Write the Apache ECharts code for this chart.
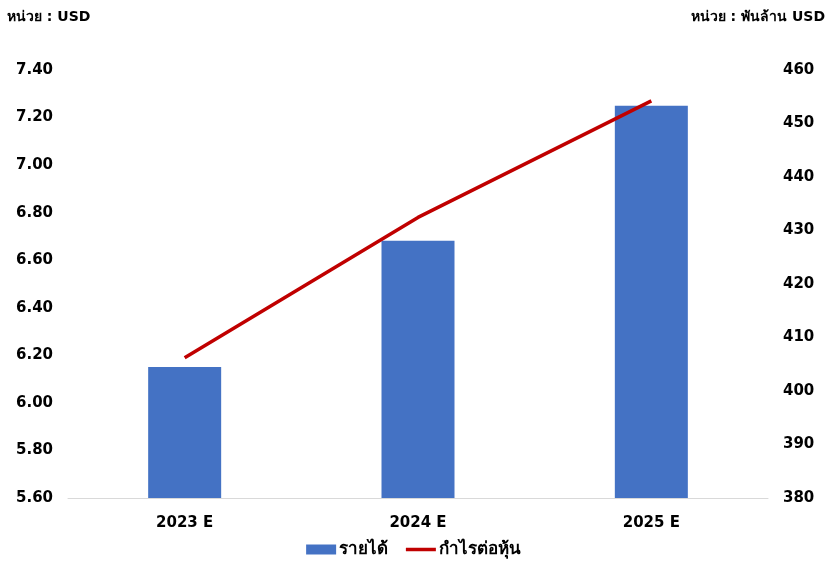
<!DOCTYPE html>
<html>
<head>
<meta charset="utf-8">
<script src="https://cdn.jsdelivr.net/npm/echarts@6/dist/echarts.min.js"></script>
<style>
  html, body { margin: 0; padding: 0; background: #fff; }
  #chart { width: 827px; height: 566px; }
</style>
</head>
<body>
<div id="chart"></div>
<script>
// Revenue (bars, right axis, bn USD) + EPS (line, left axis, USD)
const years = ['2023 E', '2024 E', '2025 E'];
const revenue = [404.5, 428.1, 453.3];
const eps = [6.19, 6.78, 7.27];

const FONT = '"DejaVu Sans", Tahoma, sans-serif';
const label = { color: '#000', fontSize: 15, fontWeight: 'bold', fontFamily: FONT };
const titleText = { fontSize: 14, fontWeight: 'bold', color: '#000', fontFamily: FONT };

const chart = echarts.init(document.getElementById('chart'), null, { renderer: 'canvas' });
chart.setOption({
  animation: false,
  backgroundColor: '#fff',
  textStyle: { fontFamily: FONT },
  title: [
    { text: 'หน่วย : USD', left: 2, top: 5, textStyle: titleText },
    { text: 'หน่วย : พันล้าน USD', right: -3, top: 5, textStyle: titleText },
  ],
  legend: {
    bottom: 3,
    left: 'center',
    itemGap: 16,
    itemWidth: 30,
    itemHeight: 10,
    textStyle: { fontSize: 17, fontWeight: 'bold', color: '#000', fontFamily: FONT, padding: [0, 0, 0, -2] },
    data: [
      { name: 'รายได้', icon: 'rect' },
      { name: 'กำไรต่อหุ้น', itemStyle: { opacity: 0 }, lineStyle: { width: 3.5, color: '#c00000' } },
    ],
  },
  grid: { left: 68, right: 59, top: 70, bottom: 68 },
  xAxis: {
    type: 'category',
    data: years,
    axisLine: { lineStyle: { color: '#d9d9d9', width: 1 } },
    axisTick: { show: false },
    axisLabel: Object.assign({ margin: 18 }, label),
  },
  yAxis: [
    {
      type: 'value', min: 5.6, max: 7.4, interval: 0.2, position: 'left',
      axisLine: { show: false }, axisTick: { show: false }, splitLine: { show: false },
      axisLabel: Object.assign({ margin: 15, formatter: v => v.toFixed(2) }, label),
    },
    {
      type: 'value', min: 380, max: 460, interval: 10, position: 'right',
      axisLine: { show: false }, axisTick: { show: false }, splitLine: { show: false },
      axisLabel: Object.assign({ margin: 15 }, label),
    },
  ],
  series: [
    {
      name: 'รายได้', type: 'bar', yAxisIndex: 1,
      data: revenue, barWidth: 73,
      itemStyle: { color: '#4472c4' },
    },
    {
      name: 'กำไรต่อหุ้น', type: 'line', yAxisIndex: 0,
      data: eps, showSymbol: false, symbol: 'none',
      lineStyle: { color: '#c00000', width: 3.5 },
      itemStyle: { color: '#c00000' },
    },
  ],
});
</script>
</body>
</html>
